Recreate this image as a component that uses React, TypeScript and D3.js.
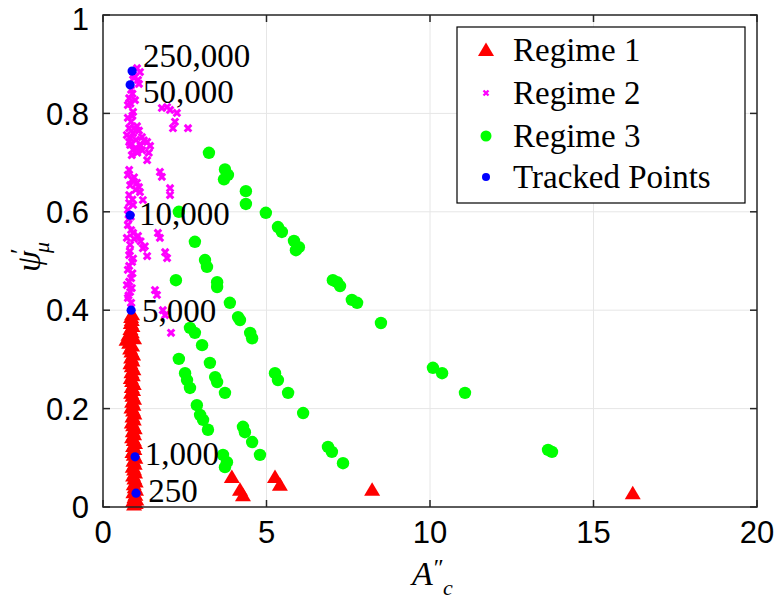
import React from "react";
import * as d3 from "d3";

type P = [number, number];

const regime1: P[] = [
  [0.95, 0.005], [1.0, 0.008], [0.92, 0.012], [1.02, 0.015], [0.96, 0.02], [0.99, 0.025], [0.93, 0.03], [1.01, 0.035],
  [0.97, 0.04], [0.94, 0.046], [1.0, 0.052], [0.96, 0.058], [0.92, 0.064], [0.98, 0.07], [0.95, 0.076], [0.91, 0.082],
  [0.97, 0.088], [0.93, 0.094], [0.99, 0.1], [0.94, 0.106], [0.9, 0.112], [0.96, 0.118], [0.92, 0.124], [0.98, 0.13],
  [0.94, 0.136], [0.89, 0.142], [0.95, 0.148], [0.91, 0.154], [0.97, 0.16], [0.92, 0.166], [0.88, 0.172], [0.94, 0.178],
  [0.9, 0.184], [0.96, 0.19], [0.92, 0.196], [0.87, 0.202], [0.93, 0.208], [0.89, 0.214], [0.95, 0.22], [0.9, 0.226],
  [0.86, 0.232], [0.92, 0.238], [0.88, 0.244], [0.94, 0.25], [0.89, 0.256], [0.85, 0.262], [0.91, 0.268], [0.87, 0.274],
  [0.93, 0.28], [0.88, 0.286], [0.84, 0.292], [0.9, 0.298], [0.86, 0.304], [0.92, 0.31], [0.87, 0.316], [0.83, 0.322],
  [0.89, 0.328], [0.8, 0.334], [0.72, 0.34], [0.95, 0.343], [0.78, 0.35], [0.88, 0.355], [0.84, 0.362], [0.9, 0.368],
  [0.85, 0.374], [0.88, 0.38], [0.86, 0.386], [0.89, 0.392],
  [3.94, 0.061], [4.19, 0.035], [4.28, 0.024], [5.26, 0.061], [5.41, 0.045], [8.23, 0.035], [16.2, 0.028],
];

const regime2: P[] = [
  [1.04, 0.892], [1.13, 0.884], [0.92, 0.878], [1.07, 0.868], [0.86, 0.848], [0.8, 0.831], [0.98, 0.827], [0.76, 0.817],
  [0.92, 0.803], [0.76, 0.791], [0.86, 0.783], [1.04, 0.774], [0.73, 0.756], [0.92, 0.76], [1.19, 0.752], [1.35, 0.742],
  [1.44, 0.734], [0.83, 0.736], [0.92, 0.726], [0.83, 0.75], [1.01, 0.746],
  [0.95, 0.872], [1.1, 0.86], [0.9, 0.84], [0.84, 0.82], [0.9, 0.795], [0.8, 0.77], [0.95, 0.77], [1.1, 0.765],
  [1.25, 0.745], [1.15, 0.735], [0.8, 0.742], [1.0, 0.73], [1.05, 0.72], [0.88, 0.715], [1.2, 0.725], [1.4, 0.72],
  [1.8, 0.811], [1.96, 0.813], [2.05, 0.807], [2.26, 0.801], [2.2, 0.783], [2.14, 0.77], [2.6, 0.77], [1.35, 0.705],
  [0.76, 0.675], [0.89, 0.665], [1.04, 0.659], [1.13, 0.64], [1.22, 0.624], [0.83, 0.654], [0.8, 0.634], [0.92, 0.614],
  [0.8, 0.685], [0.95, 0.67], [1.1, 0.65], [1.0, 0.645], [0.9, 0.625], [0.8, 0.618],
  [0.76, 0.604], [1.74, 0.681], [1.8, 0.671], [2.05, 0.648], [2.05, 0.634],
  [0.76, 0.573], [0.86, 0.563], [0.73, 0.547], [0.83, 0.533], [0.92, 0.557], [1.07, 0.551], [1.22, 0.526], [1.35, 0.51],
  [0.85, 0.59], [0.78, 0.585], [0.95, 0.545], [1.15, 0.54], [1.28, 0.53],
  [1.68, 0.557], [1.74, 0.547], [1.9, 0.518], [1.96, 0.506],
  [0.8, 0.512], [0.89, 0.498], [0.76, 0.482], [0.86, 0.465], [0.73, 0.451], [0.83, 0.437], [0.76, 0.425], [0.86, 0.415],
  [0.82, 0.52], [0.92, 0.505], [0.8, 0.49], [0.9, 0.475], [0.8, 0.458], [0.88, 0.445], [0.78, 0.43], [0.86, 0.405],
  [1.59, 0.441], [1.65, 0.431], [1.83, 0.4], [1.9, 0.39], [2.08, 0.354],
];

const regime3: P[] = [
  [3.24, 0.72], [3.73, 0.686], [3.82, 0.675], [3.7, 0.666], [4.37, 0.642], [4.37, 0.616], [4.98, 0.598], [5.35, 0.569],
  [5.47, 0.559], [5.84, 0.541], [5.99, 0.528], [5.9, 0.522], [7.03, 0.461], [7.16, 0.457], [7.25, 0.449], [7.61, 0.421],
  [7.77, 0.415], [8.5, 0.374], [10.09, 0.283], [10.37, 0.272], [11.07, 0.232], [13.61, 0.116], [13.73, 0.112],
  [2.32, 0.6], [2.81, 0.539], [3.12, 0.502], [3.18, 0.488], [3.49, 0.457], [3.49, 0.447], [3.88, 0.415], [4.13, 0.386],
  [4.19, 0.38], [4.5, 0.354], [4.56, 0.343], [5.26, 0.272], [5.35, 0.258], [5.66, 0.232], [6.12, 0.191], [6.88, 0.122],
  [7.0, 0.112], [7.34, 0.089],
  [2.23, 0.461], [2.66, 0.364], [2.81, 0.354], [3.03, 0.329], [3.27, 0.293], [3.43, 0.264], [3.49, 0.254], [3.73, 0.232],
  [4.28, 0.163], [4.34, 0.152], [4.56, 0.132], [4.8, 0.106],
  [2.32, 0.301], [2.51, 0.272], [2.57, 0.258], [2.66, 0.242], [2.87, 0.207], [2.97, 0.187], [3.06, 0.177], [3.21, 0.157],
  [3.67, 0.106], [3.79, 0.091], [3.73, 0.081],
];

const tracked: P[] = [[0.89, 0.886], [0.83, 0.858], [0.83, 0.593], [0.86, 0.4], [0.98, 0.102], [1.01, 0.028]];
const trackedLabels = ["250,000", "50,000", "10,000", "5,000", "1,000", "250"];
const trackedLabelPos: P[] = [[1.22, 0.917], [1.22, 0.843], [1.1, 0.596], [1.19, 0.398], [1.28, 0.108], [1.38, 0.0325]];

const xTicks = [0, 5, 10, 15, 20];
const yTicks = [0, 0.2, 0.4, 0.6, 0.8, 1];
const legendLabels = ["Regime 1", "Regime 2", "Regime 3", "Tracked Points"];

const W = 777, H = 600;
const L = 103, R = 757, T = 15, B = 507;

export default function App() {
  const x = d3.scaleLinear().domain([0, 20]).range([L, R]);
  const y = d3.scaleLinear().domain([0, 1]).range([B, T]);
  const tri = (cx: number, cy: number) => `M${cx},${cy - 7.5}L${cx + 8},${cy + 6}L${cx - 8},${cy + 6}Z`;
  const xm = (cx: number, cy: number, s: number) => `M${cx - s},${cy - s}L${cx + s},${cy + s}M${cx - s},${cy + s}L${cx + s},${cy - s}`;
  const axisColor = "#262626";
  const tickLen = 7;
  const legY = [50, 93, 136, 177];
  const serif = "'Liberation Serif', 'Times New Roman', serif";
  const sans = "'Liberation Sans', Arial, sans-serif";
  return (
    <div style={{ position: "fixed", left: 0, top: 0 }}>
      <svg width={W} height={H} style={{ display: "block", background: "#fff" }}>
        <rect x={0} y={0} width={W} height={H} fill="#fff" />
        {xTicks.slice(1, -1).map((t) => (
          <line key={"gx" + t} x1={x(t)} x2={x(t)} y1={T} y2={B} stroke="#e6e6e6" strokeWidth={1} />
        ))}
        {yTicks.slice(1, -1).map((t) => (
          <line key={"gy" + t} x1={L} x2={R} y1={y(t)} y2={y(t)} stroke="#e6e6e6" strokeWidth={1} />
        ))}
        {regime1.map(([a, b], i) => (
          <path key={"r" + i} d={tri(x(a), y(b))} fill="#ff0000" />
        ))}
        {regime2.map(([a, b], i) => (
          <path key={"m" + i} d={xm(x(a), y(b), 3.3)} stroke="#ff00ff" strokeWidth={3} fill="none" />
        ))}
        {regime3.map(([a, b], i) => (
          <circle key={"g" + i} cx={x(a)} cy={y(b)} r={6.2} fill="#00ff00" />
        ))}
        {tracked.map(([a, b], i) => (
          <circle key={"b" + i} cx={x(a)} cy={y(b)} r={4.6} fill="#0000ff" />
        ))}
        {trackedLabels.map((s, i) => (
          <text key={"tl" + i} x={x(trackedLabelPos[i][0])} y={y(trackedLabelPos[i][1])} dy="0.34em"
            fontFamily={serif} fontSize={33} fill="#000">{s}</text>
        ))}
        <rect x={L} y={T} width={R - L} height={B - T} fill="none" stroke={axisColor} strokeWidth={1.5} />
        {xTicks.map((t) => (
          <g key={"xt" + t}>
            <line x1={x(t)} x2={x(t)} y1={B} y2={B - tickLen} stroke={axisColor} strokeWidth={1.5} />
            <line x1={x(t)} x2={x(t)} y1={T} y2={T + tickLen} stroke={axisColor} strokeWidth={1.5} />
            <text x={x(t)} y={543} textAnchor="middle" fontFamily={sans} fontSize={31} fill="#000">{t}</text>
          </g>
        ))}
        {yTicks.map((t) => (
          <g key={"yt" + t}>
            <line x1={L} x2={L + tickLen} y1={y(t)} y2={y(t)} stroke={axisColor} strokeWidth={1.5} />
            <line x1={R} x2={R - tickLen} y1={y(t)} y2={y(t)} stroke={axisColor} strokeWidth={1.5} />
            <text x={89} y={Math.max(y(t), 19)} dy="0.36em" textAnchor="end" fontFamily={sans} fontSize={31} fill="#000">{String(t)}</text>
          </g>
        ))}
        <text x={412} y={585} fontFamily={serif} fontSize={34} fill="#000">
          <tspan fontStyle="italic">A</tspan>
          <tspan dx={1} dy={-10} fontSize={24}>″</tspan>
        </text>
        <text x={443} y={595} fontFamily={serif} fontSize={22} fontStyle="italic" fill="#000">c</text>
        <g transform="translate(40,258) rotate(-90)">
          <text x={-14} y={0} fontFamily={serif} fontSize={34} fontStyle="italic" fill="#000">ψ</text>
          <text x={4} y={-12} fontFamily={serif} fontSize={26} fill="#000">′</text>
          <text x={5} y={9} fontFamily={serif} fontSize={22} fontStyle="italic" fill="#000">μ</text>
        </g>
        <rect x={457} y={27} width={288} height={176} fill="#fff" stroke="#000" strokeWidth={1.2} />
        <path d={tri(486, legY[0])} fill="#ff0000" />
        <path d={xm(486, legY[1], 2.5)} stroke="#ff00ff" strokeWidth={2.3} fill="none" />
        <circle cx={486} cy={legY[2]} r={5.5} fill="#00ff00" />
        <circle cx={486} cy={legY[3]} r={4} fill="#0000ff" />
        {legendLabels.map((s, i) => (
          <text key={"lg" + i} x={513} y={legY[i]} dy="0.33em" fontFamily={serif} fontSize={33} fill="#000">{s}</text>
        ))}
      </svg>
    </div>
  );
}
